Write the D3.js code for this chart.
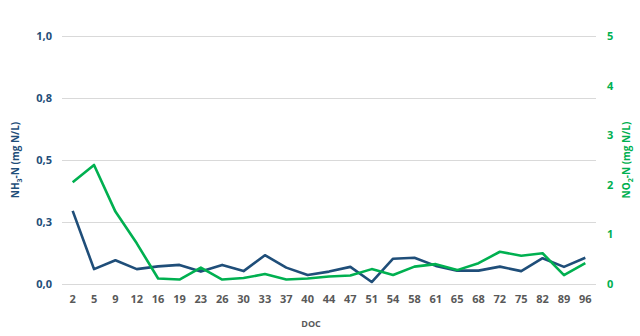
<!DOCTYPE html>
<html>
<head>
<meta charset="utf-8">
<script src="https://cdn.jsdelivr.net/npm/d3@7"></script>
<style>
  html, body { margin: 0; padding: 0; background: #ffffff; }
  svg { display: block; font-family: "Open Sans", "Liberation Sans", sans-serif; }
</style>
</head>
<body>
<svg id="chart" width="640" height="336"></svg>
<script>
// Sampling day (DOC) and measured concentrations
const doc = [2, 5, 9, 12, 16, 19, 23, 26, 30, 33, 37, 40, 44, 47, 51, 54, 58, 61, 65, 68, 72, 75, 82, 89, 96];
const nh3 = [0.295, 0.06, 0.096, 0.06, 0.071, 0.077, 0.05, 0.077, 0.052, 0.116, 0.066, 0.036, 0.05, 0.069,
             0.008, 0.102, 0.106, 0.073, 0.054, 0.054, 0.07, 0.052, 0.104, 0.069, 0.106];
const no2 = [2.05, 2.40, 1.46, 0.82, 0.11, 0.09, 0.33, 0.09, 0.12, 0.20, 0.09, 0.11, 0.15, 0.17,
             0.30, 0.18, 0.35, 0.40, 0.28, 0.42, 0.65, 0.57, 0.62, 0.18, 0.42];
const leftTicks = [0, 0.25, 0.5, 0.75, 1.0];
const rightTicks = [0, 1, 2, 3, 4, 5];

const blue = "#1f4e79";
const green = "#00b050";
const grey = "#595959";

const svg = d3.select("#chart");
const plotL = 62, plotR = 596, plotT = 36, plotB = 284;

const x = d3.scaleBand().domain(doc).range([plotL, plotR]);
const yL = d3.scaleLinear().domain([0, 1]).range([plotB, plotT]);
const yR = d3.scaleLinear().domain([0, 5]).range([plotB, plotT]);

const locale = d3.formatLocale({ decimal: ",", thousands: ".", grouping: [3], currency: ["", ""] });
const fmt1 = locale.format(".1f");

// Horizontal gridlines
svg.append("g")
  .selectAll("line")
  .data(leftTicks)
  .join("line")
  .attr("x1", plotL).attr("x2", plotR)
  .attr("y1", d => Math.round(yL(d)) + 0.5).attr("y2", d => Math.round(yL(d)) + 0.5)
  .attr("stroke", "#d9d9d9").attr("stroke-width", 1);

// Left axis
const axL = svg.append("g")
  .attr("transform", `translate(${plotL},0)`)
  .call(d3.axisLeft(yL).tickValues(leftTicks).tickFormat(fmt1).tickSize(0).tickPadding(10));
axL.select(".domain").remove();
axL.selectAll("text").attr("fill", blue).attr("font-size", 11).attr("font-weight", "bold")
  .attr("font-family", "Open Sans, sans-serif");

// Right axis
const axR = svg.append("g")
  .attr("transform", `translate(${plotR},0)`)
  .call(d3.axisRight(yR).tickValues(rightTicks).tickFormat(d3.format("d")).tickSize(0).tickPadding(11));
axR.select(".domain").remove();
axR.selectAll("text").attr("fill", green).attr("font-size", 11).attr("font-weight", "bold")
  .attr("font-family", "Open Sans, sans-serif");

// Bottom axis
const axB = svg.append("g")
  .attr("transform", `translate(0,${plotB})`)
  .call(d3.axisBottom(x).tickSize(0).tickPadding(11));
axB.select(".domain").remove();
axB.selectAll("text").attr("fill", grey).attr("font-size", 11).attr("font-weight", "bold")
  .attr("font-family", "Open Sans, sans-serif");

// Axis titles
svg.append("text")
  .attr("x", 311).attr("y", 327)
  .attr("text-anchor", "middle")
  .attr("fill", grey).attr("font-size", 9).attr("font-weight", "bold")
  .text("DOC");

const tL = svg.append("text")
  .attr("transform", "translate(19,160) rotate(-90)")
  .attr("text-anchor", "middle")
  .attr("fill", blue).attr("font-size", 10).attr("font-weight", "bold");
tL.append("tspan").text("NH");
tL.append("tspan").attr("font-size", 7).attr("dy", 3).text("3");
tL.append("tspan").attr("dy", -3).text("-N (mg N/L)");

const tR = svg.append("text")
  .attr("transform", "translate(630,160) rotate(-90)")
  .attr("text-anchor", "middle")
  .attr("fill", green).attr("font-size", 10).attr("font-weight", "bold");
tR.append("tspan").text("NO");
tR.append("tspan").attr("font-size", 7).attr("dy", 3).text("2");
tR.append("tspan").attr("dy", -3).text("-N (mg N/L)");

const cx = d => x(d) + x.bandwidth() / 2;

// NH3-N line (left axis)
svg.append("path")
  .datum(nh3)
  .attr("fill", "none").attr("stroke", blue).attr("stroke-width", 2.6)
  .attr("stroke-linejoin", "round")
  .attr("d", d3.line().x((d, i) => cx(doc[i])).y(d => yL(d)));

// NO2-N line (right axis)
svg.append("path")
  .datum(no2)
  .attr("fill", "none").attr("stroke", green).attr("stroke-width", 2.6)
  .attr("stroke-linejoin", "round")
  .attr("d", d3.line().x((d, i) => cx(doc[i])).y(d => yR(d)));
</script>
</body>
</html>
